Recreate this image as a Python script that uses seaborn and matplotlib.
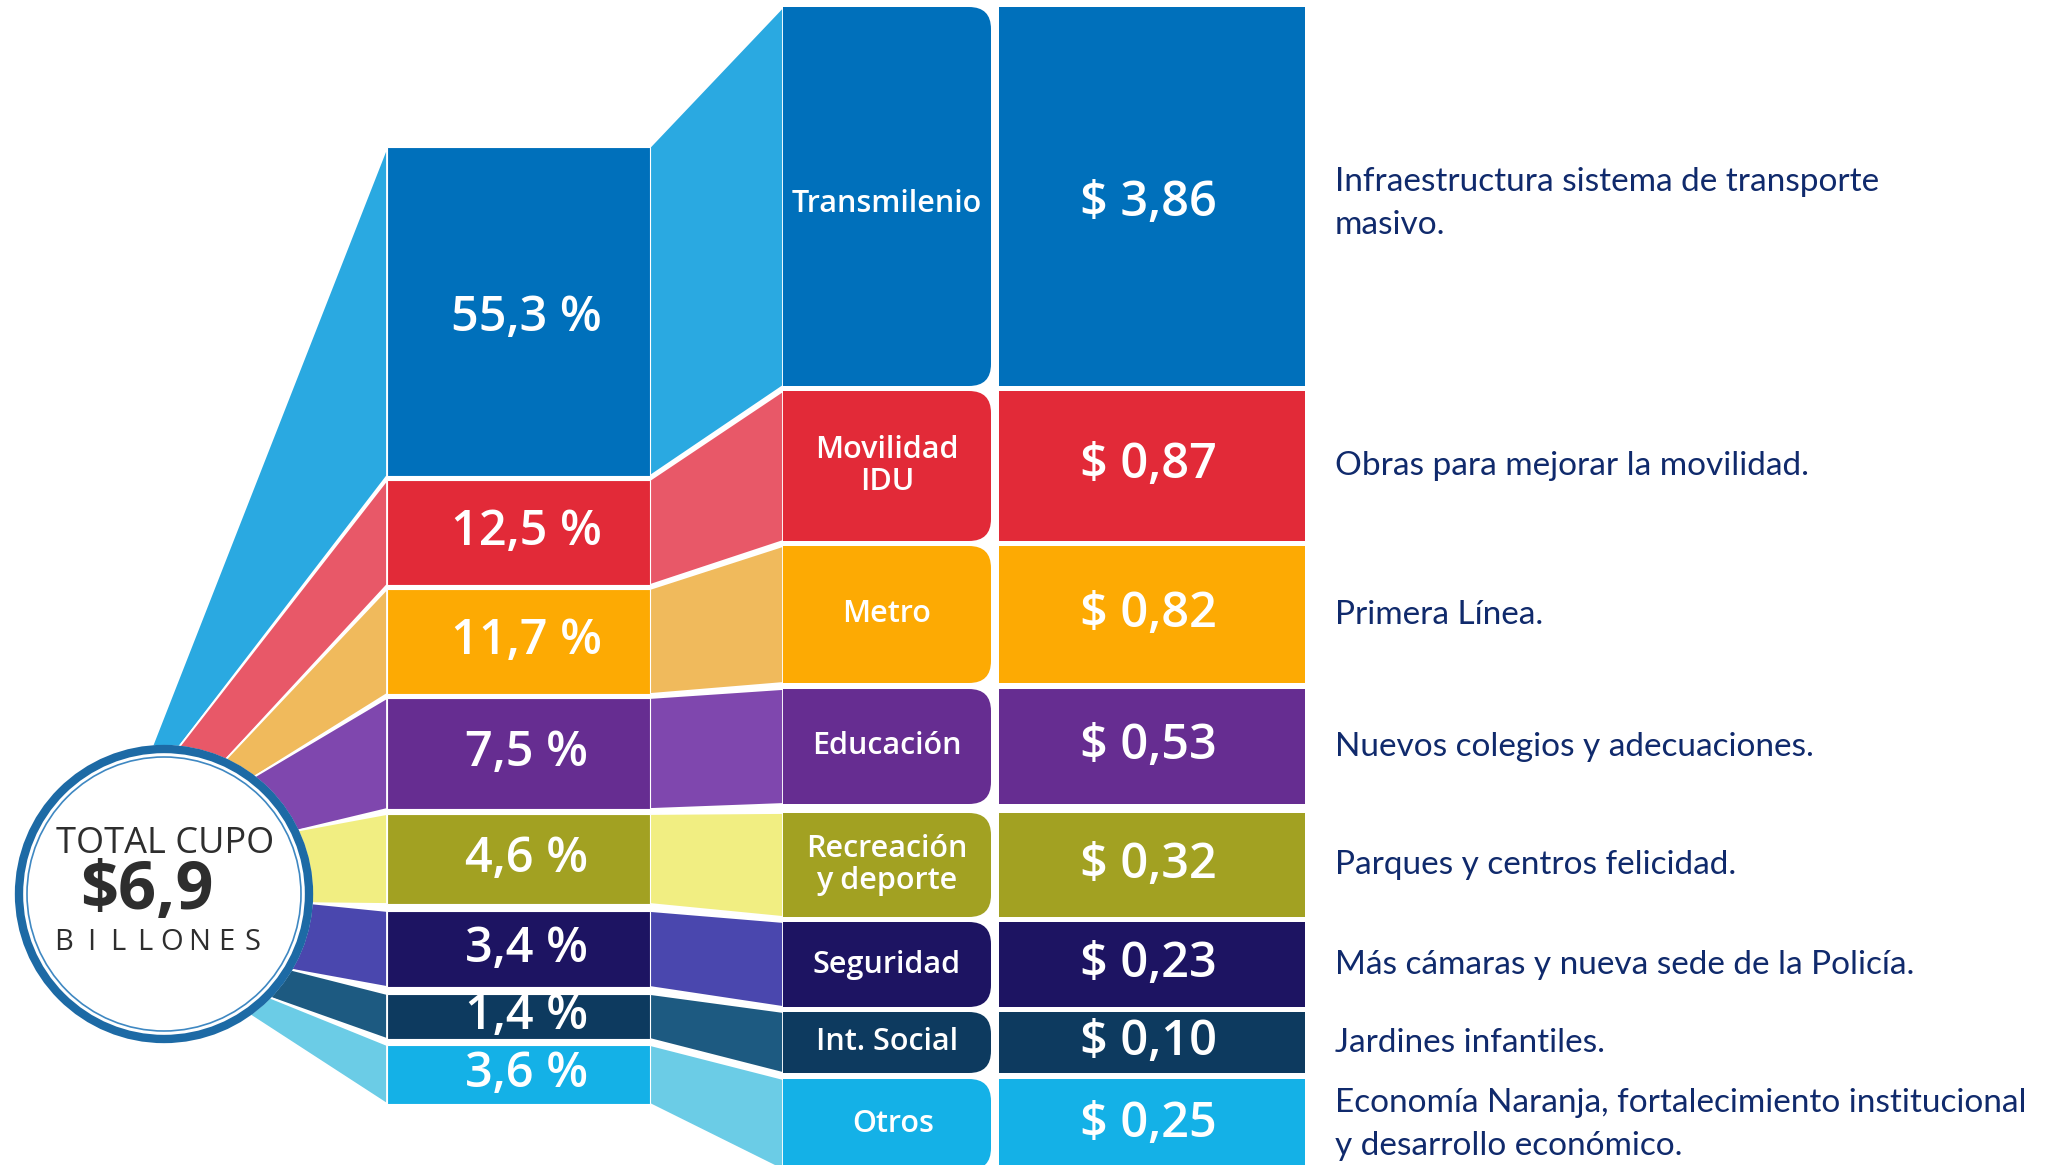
import numpy as np
import pandas as pd
import matplotlib
matplotlib.use("Agg")
import matplotlib.pyplot as plt
from matplotlib.patches import Polygon, Circle, FancyBboxPatch, Rectangle
import seaborn as sns

# ---------------- data ----------------
categories = ["Transmilenio", "Movilidad\nIDU", "Metro", "Educación",
              "Recreación\ny deporte", "Seguridad", "Int. Social", "Otros"]
percentages = [55.3, 12.5, 11.7, 7.5, 4.6, 3.4, 1.4, 3.6]
amounts = [3.86, 0.87, 0.82, 0.53, 0.32, 0.23, 0.10, 0.25]
descriptions = [
    "Infraestructura sistema de transporte\nmasivo.",
    "Obras para mejorar la movilidad.",
    "Primera Línea.",
    "Nuevos colegios y adecuaciones.",
    "Parques y centros felicidad.",
    "Más cámaras y nueva sede de la Policía.",
    "Jardines infantiles.",
    "Economía Naranja, fortalecimiento institucional\ny desarrollo económico.",
]
total_label = "6,9"

# ---------------- styles ----------------
main_colors = ["#0070BB", "#E22A38", "#FDAA03", "#662D91",
               "#A2A122", "#1D1462", "#0D3A5F", "#14B1E7"]
light_colors = ["#2AA9E1", "#E85868", "#F0BA5C", "#7F47AE",
                "#F1EE82", "#4A47AE", "#1D5A81", "#6BCCE6"]

# ---------------- layout (pixel units of the canvas) ----------------
W, H = 2052, 1165
col1_x = (387, 650)
col2_x = (783, 991)
col3_x = (999, 1305)
desc_x = 1335
col1_top = [147, 480, 589, 698, 814, 911, 994, 1045]
col1_bot = [476, 585, 694, 809, 904, 987, 1039, 1104]
col2_top = [7, 391, 546, 689, 813, 922, 1012, 1079]
col2_bot = [386, 541, 683, 804, 917, 1007, 1073, 1170]
fan_edges_deg = [95, 84.6, 65.6, 52.7, 25.6, -3.6, -31, -44.7, -55]
circ_c = (164, 894)
circ_r = 149

sns.set_theme(style="white")
plt.rcParams["font.family"] = ["Open Sans", "DejaVu Sans"]
pal_main = sns.color_palette(main_colors)
pal_light = sns.color_palette(light_colors)

fig = plt.figure(figsize=(W / 100, H / 100), dpi=100)
ax = fig.add_axes([0, 0, 1, 1])
ax.set_xlim(0, W)
ax.set_ylim(H, 0)
ax.axis("off")

n = len(categories)
c1t, c1b = np.array(col1_top), np.array(col1_bot)
c2t, c2b = np.array(col2_top), np.array(col2_bot)

# fan from circle to first column
cx, cy = circ_c
rr = circ_r - 3
for i in range(n):
    a0 = np.deg2rad(fan_edges_deg[i])
    a1 = np.deg2rad(fan_edges_deg[i + 1])
    pts = [(col1_x[0], c1t[i]),
           (cx + rr * np.cos(a0), cy - rr * np.sin(a0)),
           (cx + rr * np.cos(a1), cy - rr * np.sin(a1)),
           (col1_x[0], c1b[i])]
    ax.add_patch(Polygon(pts, closed=True, fc=pal_light[i], ec="white",
                         lw=1.3, zorder=1))

# column 1 (percentages)
ax.bar(x=[(col1_x[0] + col1_x[1]) / 2] * n, height=c1b - c1t, bottom=c1t,
       width=col1_x[1] - col1_x[0], color=pal_main, edgecolor="white",
       linewidth=0.8, zorder=2)

# links column 1 -> column 2
for i in range(n):
    pts = [(col1_x[1], c1t[i]), (col2_x[0], c2t[i]),
           (col2_x[0], c2b[i]), (col1_x[1], c1b[i])]
    ax.add_patch(Polygon(pts, closed=True, fc=pal_light[i], ec="white",
                         lw=1.3, zorder=1.5))

# column 2 (names) with rounded right corners
for i in range(n):
    h = c2b[i] - c2t[i]
    ax.add_patch(FancyBboxPatch((col2_x[0], c2t[i]), col2_x[1] - col2_x[0], h,
                                boxstyle="round,pad=0,rounding_size=22",
                                fc=pal_main[i], ec="none", zorder=2))
    ax.add_patch(Rectangle((col2_x[0], c2t[i]), 60, h, fc=pal_main[i],
                           ec="none", zorder=2))

# column 3 (amounts)
ax.bar(x=[(col3_x[0] + col3_x[1]) / 2] * n, height=c2b - c2t, bottom=c2t,
       width=col3_x[1] - col3_x[0], color=pal_main, edgecolor="none",
       zorder=2)

# labels
for i in range(n):
    y1 = (c1t[i] + c1b[i]) / 2
    y2 = (c2t[i] + c2b[i]) / 2
    dy = 7 if i == 0 else 0
    pct = f"{percentages[i]:.1f}".replace(".", ",") + " %"
    ax.text((col1_x[0] + col1_x[1]) / 2 + 8, y1 + dy, pct, ha="center",
            va="center", color="white", fontsize=35, fontweight="semibold",
            zorder=4)
    ax.text((col2_x[0] + col2_x[1]) / 2 + (6 if i == 7 else 0), y2 + dy,
            categories[i], ha="center", va="center", color="white",
            fontsize=22, fontweight="semibold", linespacing=1.1, zorder=4)
    amt = "$ " + f"{amounts[i]:.2f}".replace(".", ",")
    ax.text((col3_x[0] + col3_x[1]) / 2 - 4, y2 + dy, amt, ha="center",
            va="center", color="white", fontsize=35, fontweight="semibold",
            zorder=4)
    ax.text(desc_x, y2 + dy, descriptions[i], ha="left", va="center",
            color="#102A6C", fontsize=24, family=["Lato", "DejaVu Sans"],
            linespacing=1.55, zorder=4)

# central circle
ax.add_patch(Circle(circ_c, circ_r, fc="white", ec="none", zorder=5))
ax.add_patch(Circle(circ_c, circ_r - 4, fc="none", ec="#1D6AA5", lw=6,
                    zorder=6))
ax.add_patch(Circle(circ_c, circ_r - 12, fc="none", ec="#3F88C2", lw=1.2,
                    zorder=6))
ax.text(cx + 1, cy - 50, "TOTAL CUPO", ha="center", va="center",
        color="#2E2E2E", fontsize=26, zorder=7)
ax.text(cx - 17, cy - 2, "$" + total_label, ha="center", va="center",
        color="#2E2E2E", fontsize=48, fontweight="bold", zorder=7)
word = "BILLONES"
for k, ch in enumerate(word):
    xk = 64 + k * (253 - 64) / (len(word) - 1)
    ax.text(xk, cy + 48, ch, ha="center", va="center", color="#2E2E2E",
            fontsize=21, zorder=7)

fig.savefig("out.png", dpi=100, facecolor="white")
